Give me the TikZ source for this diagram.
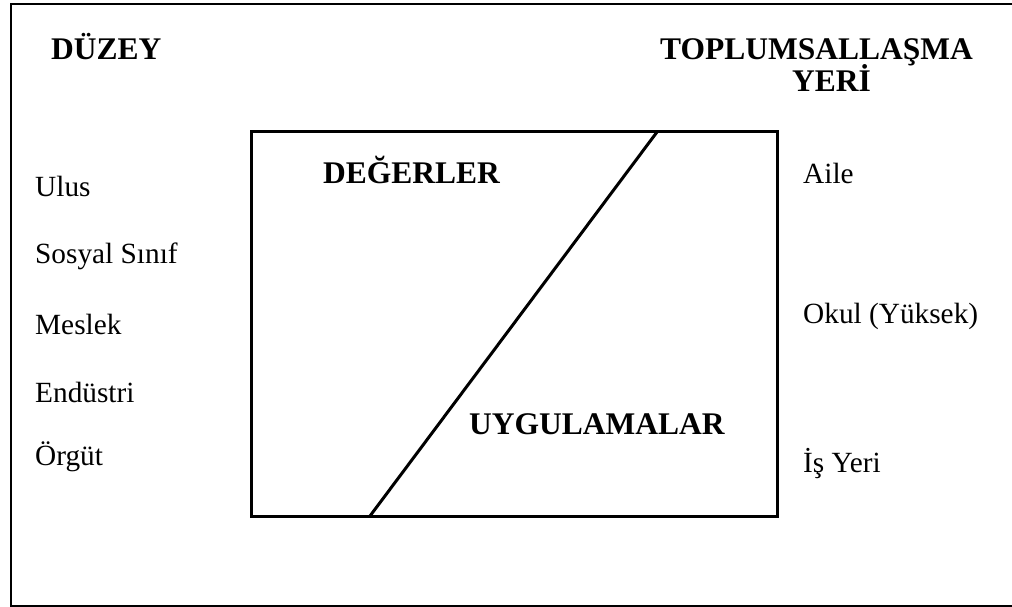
\documentclass[tikz,border=0pt]{standalone}
\usepackage{fontspec}
\setmainfont{Liberation Serif}
\begin{document}
\begin{tikzpicture}[x=1pt,y=-1pt,
  head/.style={anchor=base west,inner sep=0pt,font=\fontsize{31.5}{36}\selectfont\bfseries},
  item/.style={anchor=base west,inner sep=0pt,font=\fontsize{29.3}{34}\selectfont},
  frame/.style={line width=1.5pt},
  boxline/.style={line width=3pt}]
\useasboundingbox (0,0) rectangle (1012,607);
% outer frame (open on the right)
\draw[frame] (1030,4) -- (11,4) -- (11,606) -- (1030,606);
% headers
\node[head] (duzey) at (51,60) {DÜZEY};
\node[head] (top) at (660,60) {TOPLUMSALLAŞMA};
\node[head] (yeri) at (792,92) {YERİ};
% main box
\coordinate (tl) at (251,132);
\coordinate (br) at (777,516);
\coordinate (dtop) at (657,132);
\coordinate (dbot) at (370,516);
\draw[boxline] (tl) rectangle (br);
\draw[boxline] (dtop) -- (dbot);
\node[head] (deg) at (323,183) {DEĞERLER};
\node[head] (uyg) at (469,434) {UYGULAMALAR};
% left column
\node[item] (ulus) at (35,196) {Ulus};
\node[item] (sinif) at (35,263) {Sosyal Sınıf};
\node[item] (meslek) at (35,334) {Meslek};
\node[item] (endustri) at (35,402) {Endüstri};
\node[item] (orgut) at (35,465) {Örgüt};
% right column
\node[item] (aile) at (803,183) {Aile};
\node[item] (okul) at (803,323) {Okul (Yüksek)};
\node[item] (isyeri) at (803,472) {İş Yeri};
\end{tikzpicture}
\end{document}
